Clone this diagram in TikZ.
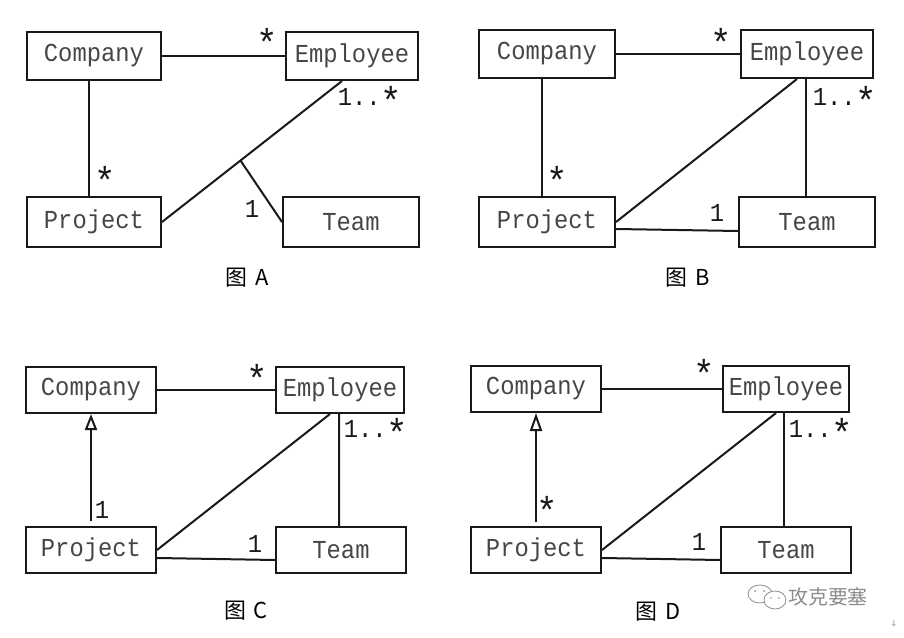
\documentclass[tikz,border=0pt]{standalone}
\usepackage{fontspec}
\usetikzlibrary{arrows.meta,calc}
\newfontfamily\monofnt[FakeStretch=0.92]{Liberation Mono}
\newfontfamily\cjk{Noto Sans CJK SC}
\newfontfamily\symfnt{DejaVu Sans}
\newcommand{\myast}{\raisebox{-9pt}{\scalebox{1.5}{*}}}
\definecolor{txtgray}{RGB}{70,70,70}
\definecolor{linecol}{RGB}{25,25,25}
\definecolor{wmgray}{RGB}{140,140,140}
\begin{document}
\begin{tikzpicture}[x=1bp,y=-1bp,
  cls/.style={draw=linecol, line width=2bp, rectangle, inner sep=0pt,
    font=\monofnt\fontsize{26}{26}\selectfont, text=txtgray},
  conn/.style={draw=linecol, line width=2bp},
  gen/.style={conn, -{Triangle[open, length=#1, width=12bp, line width=2bp]}},
  mult/.style={inner sep=0pt, font=\monofnt\fontsize{26}{26}\selectfont, text=linecol},
  figcap/.style={inner sep=0pt, font=\cjk\fontsize{22}{22}\selectfont, text=black},
]
\useasboundingbox (0,0) rectangle (904,638);
\fill[white] (0,0) rectangle (904,638);

% ---------------- Panel A ----------------
\node[cls, minimum width=134bp, minimum height=48bp] (comA) at (94,56) {Company};
\node[cls, minimum width=132bp, minimum height=48bp] (empA) at (352,56) {Employee};
\node[cls, minimum width=134bp, minimum height=50bp] (prjA) at (94,222) {Project};
\node[cls, minimum width=136bp, minimum height=50bp] (teamA) at (351,222) {Team};
\draw[conn] (comA.east) -- (empA.west);
\draw[conn] ([xshift=-5bp]comA.south) -- ([xshift=-5bp]prjA.north);
\draw[conn] (prjA.east) -- ([xshift=-10bp]empA.south);
\coordinate (brA) at ($(prjA.east)!0.436!([xshift=-10bp]empA.south)$);
\draw[conn] (brA) -- (teamA.west);
\node[mult] (mA1) at (267,42) {\myast};
\node[mult] (mA2) at (105,180) {\myast};
\node[mult] (mA3) at (252,209) {1};
\node[mult] (mA4) at (370,100) {1..\myast};
\node[figcap] (capA) at (247,278) {图\hspace{8pt}A};

% ---------------- Panel B ----------------
\node[cls, minimum width=136bp, minimum height=48bp] (comB) at (547,54) {Company};
\node[cls, minimum width=132bp, minimum height=48bp] (empB) at (807,54) {Employee};
\node[cls, minimum width=136bp, minimum height=50bp] (prjB) at (547,222) {Project};
\node[cls, minimum width=136bp, minimum height=50bp] (teamB) at (807,222) {Team};
\draw[conn] (comB.east) -- (empB.west);
\draw[conn] ([xshift=-5bp]comB.south) -- ([xshift=-5bp]prjB.north);
\draw[conn] (prjB.east) -- ([xshift=-10bp]empB.south);
\draw[conn] ([xshift=-1bp]empB.south) -- ([xshift=-1bp]teamB.north);
\draw[conn] ([yshift=-7bp]prjB.east) -- ([yshift=-9bp]teamB.west);
\node[mult] (mB1) at (721,42) {\myast};
\node[mult] (mB2) at (557,180) {\myast};
\node[mult] (mB3) at (717,213) {1};
\node[mult] (mB4) at (845,100) {1..\myast};
\node[figcap] (capB) at (688,278) {图\hspace{8pt}B};

% ---------------- Panel C ----------------
\node[cls, minimum width=130bp, minimum height=46bp] (comC) at (91,390) {Company};
\node[cls, minimum width=128bp, minimum height=46bp] (empC) at (340,390) {Employee};
\node[cls, minimum width=130bp, minimum height=46bp] (prjC) at (91,550) {Project};
\node[cls, minimum width=130bp, minimum height=46bp] (teamC) at (341,550) {Team};
\draw[conn] (comC.east) -- (empC.west);
\draw[gen=16bp] ([yshift=5bp]prjC.north) -- (comC.south);
\draw[conn] (prjC.east) -- ([xshift=-10bp]empC.south);
\draw[conn] ([xshift=-1bp]empC.south) -- ([xshift=-2bp]teamC.north);
\draw[conn] ([yshift=-8bp]prjC.east) -- ([yshift=-10bp]teamC.west);
\node[mult] (mC1) at (257,378) {\myast};
\node[mult] (mC2) at (102,510) {1};
\node[mult] (mC3) at (255,544) {1};
\node[mult] (mC4) at (376,432) {1..\myast};
\node[figcap] (capC) at (246,611) {图\hspace{8pt}C};

% ---------------- Panel D ----------------
\node[cls, minimum width=130bp, minimum height=46bp] (comD) at (536,389) {Company};
\node[cls, minimum width=126bp, minimum height=46bp] (empD) at (786,389) {Employee};
\node[cls, minimum width=130bp, minimum height=46bp] (prjD) at (536,550) {Project};
\node[cls, minimum width=130bp, minimum height=46bp] (teamD) at (786,550) {Team};
\draw[conn] (comD.east) -- (empD.west);
\draw[gen=18bp] ([yshift=4bp]prjD.north) -- (comD.south);
\draw[conn] (prjD.east) -- ([xshift=-10bp]empD.south);
\draw[conn] ([xshift=-2bp]empD.south) -- ([xshift=-2bp]teamD.north);
\draw[conn] ([yshift=-8bp]prjD.east) -- ([yshift=-10bp]teamD.west);
\node[mult] (mD1) at (704,373) {\myast};
\node[mult] (mD2) at (547,510) {\myast};
\node[mult] (mD3) at (699,542) {1};
\node[mult] (mD4) at (821,432) {1..\myast};
\node[figcap] (capD) at (658,612) {图\hspace{8pt}D};

% ---------------- Watermark ----------------
\draw[wmgray, line width=0.8pt] (760,594) ellipse [x radius=12bp, y radius=9bp];
\draw[wmgray, line width=0.8pt, fill=white] (775,600) ellipse [x radius=11bp, y radius=9bp];
\fill[wmgray] (755,591) circle (1bp) (764,591) circle (1bp) (771,598) circle (0.9bp) (779,598) circle (0.9bp);
\node[inner sep=0pt, font=\cjk\fontsize{20}{20}\selectfont, text=wmgray] (wm) at (828,597) {攻克要塞};
\node[inner sep=0pt, font=\symfnt\fontsize{8}{8}\selectfont, text=wmgray] (arr) at (894,624) {↓};
\end{tikzpicture}
\end{document}
